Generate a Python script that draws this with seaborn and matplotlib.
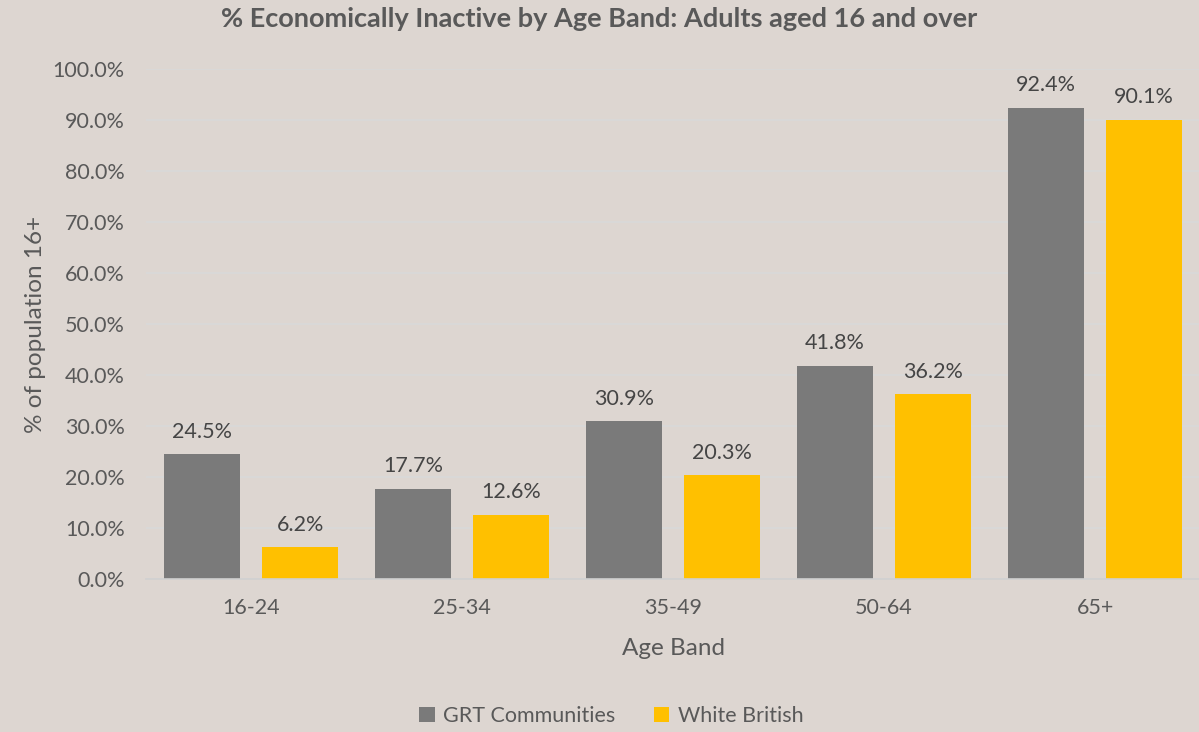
import matplotlib
matplotlib.use("Agg")
import matplotlib.pyplot as plt
import seaborn as sns
import pandas as pd
from matplotlib.ticker import PercentFormatter
from matplotlib.patches import Patch

categories = ["16-24", "25-34", "35-49", "50-64", "65+"]
grt_values = [24.5, 17.7, 30.9, 41.8, 92.4]
wb_values = [6.2, 12.6, 20.3, 36.2, 90.1]
series_names = ["GRT Communities", "White British"]
y_ticks = [0, 10, 20, 30, 40, 50, 60, 70, 80, 90, 100]

BG = "#DDD6D1"
TXT = "#595959"
colors = ["#7A7A7A", "#FFC000"]

sns.set_theme(style="white")
plt.rcParams['font.family'] = ['Lato', 'DejaVu Sans']

df = pd.DataFrame({
    "Age Band": categories * 2,
    "value": grt_values + wb_values,
    "series": [series_names[0]] * len(categories) + [series_names[1]] * len(categories),
})

fig = plt.figure(figsize=(11.99, 7.32), dpi=100, facecolor=BG)
ax = fig.add_axes([0.1214, 0.209, 0.88, 0.6967], facecolor=BG)

sns.barplot(data=df, x="Age Band", y="value", hue="series", palette=colors,
            width=0.929, gap=0.2245, ax=ax, legend=False, saturation=1, linewidth=0)

for cont in ax.containers:
    ax.bar_label(cont, labels=[f"{v:.1f}%" for v in cont.datavalues],
                 padding=9, fontsize=15.5, color="#454545")

ax.set_ylim(0, 100)
ax.set_xlim(-0.5, 4.5)
ax.set_yticks(y_ticks)
ax.yaxis.set_major_formatter(PercentFormatter(decimals=1))
ax.grid(axis="y", color="#D9D9D9", linewidth=1.2)
ax.set_axisbelow(True)
for s in ["top", "right", "left"]:
    ax.spines[s].set_visible(False)
ax.spines["bottom"].set_color("#D0D0D0")
ax.spines["bottom"].set_linewidth(1.2)
ax.tick_params(axis="both", length=0, labelsize=15.5, labelcolor=TXT)
ax.tick_params(axis="x", pad=14)
ax.tick_params(axis="y", pad=15)

ax.set_xlabel("Age Band", fontsize=17.5, color=TXT, labelpad=14)
ax.set_ylabel("% of population 16+", fontsize=17.5, color=TXT, labelpad=5)

fig.suptitle("% Economically Inactive by Age Band: Adults aged 16 and over",
             fontsize=19.5, fontweight="bold", color=TXT, y=0.99)

handles = [Patch(facecolor=c, edgecolor="none") for c in colors]
fig.legend(handles, series_names, loc="lower center", bbox_to_anchor=(0.51, -0.018),
           ncol=2, frameon=False, fontsize=15.5, labelcolor=TXT,
           handlelength=0.7, handleheight=0.7, handletextpad=0.4, columnspacing=1.8)

fig.savefig("out.png", dpi=100, facecolor=BG)
